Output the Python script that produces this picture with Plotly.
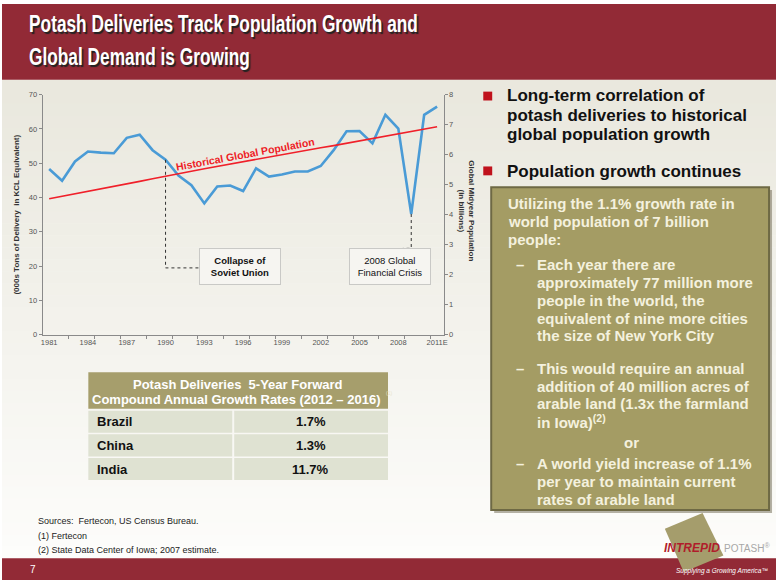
import plotly.graph_objects as go

W, H = 780, 585

# ---------------- data ----------------
years = list(range(1981, 2012))
year_labels = [str(y) for y in years[:-1]] + ["2011E"]
deliveries = [48.3, 44.9, 50.5, 53.4, 53.1, 52.9, 57.4, 58.3, 53.8, 51.0,
              46.4, 43.6, 38.3, 43.2, 43.5, 41.9, 48.5, 46.1, 46.7, 47.6,
              47.6, 49.2, 53.8, 59.3, 59.4, 55.8, 64.1, 60.1, 35.2, 64.1, 66.5]
population = [4.53, 4.61, 4.69, 4.77, 4.85, 4.94, 5.02, 5.11, 5.20, 5.29,
              5.37, 5.45, 5.53, 5.61, 5.69, 5.77, 5.85, 5.92, 6.00, 6.08,
              6.15, 6.23, 6.30, 6.38, 6.45, 6.53, 6.61, 6.69, 6.77, 6.85, 6.93]

table_title = ["Potash Deliveries  5-Year Forward", "Compound Annual Growth Rates (2012 – 2016)"]
table_countries = ["Brazil", "China", "India"]
table_rates = ["1.7%", "1.3%", "11.7%"]

FONT = "Arial, Liberation Sans, sans-serif"


def px(x):
    return x / W


def py(y):
    return 1 - y / H


fig = go.Figure()

fig.add_trace(go.Scatter(x=years, y=deliveries, mode="lines",
                         line=dict(color="#4a9bd6", width=2.6),
                         showlegend=False, hoverinfo="skip"))
fig.add_trace(go.Scatter(x=years, y=population, mode="lines", yaxis="y2",
                         line=dict(color="#f0202a", width=1.6),
                         showlegend=False, hoverinfo="skip"))

shapes = []
ann = []


def rect(x0, y0, x1, y1, fill, line=None, layer="above"):
    shapes.append(dict(type="rect", xref="paper", yref="paper", x0=px(x0), x1=px(x1),
                       y0=py(y1), y1=py(y0), fillcolor=fill,
                       line=line if line else dict(width=0), layer=layer))


def text(x, y, s, size, color="#111111", bold=False, xanchor="left", yanchor="middle", family=FONT, **kw):
    if bold:
        s = "<b>%s</b>" % s
    d = dict(xref="paper", yref="paper", x=px(x), y=py(y), text=s, showarrow=False,
             xanchor=xanchor, yanchor=yanchor, font=dict(family=family, size=size, color=color))
    d.update(kw)
    ann.append(d)


# background gradient bands
top_c = (234, 232, 222)
bot_c = (253, 253, 251)
y0, y1 = 77, 563
n = 40
for i in range(n):
    t = i / (n - 1)
    c = tuple(int(top_c[k] + (bot_c[k] - top_c[k]) * t) for k in range(3))
    ya = y0 + (y1 - y0) * i / n
    yb = y0 + (y1 - y0) * (i + 1) / n + 0.5
    rect(0, ya, W, yb, "rgb(%d,%d,%d)" % c, layer="below")
# title bar / footer bar
rect(0, 0, W, 77, "#922a36", layer="below")
rect(0, 563, W, H, "#922a36", layer="below")
# bullets
for yc in (93.5, 169.5):
    rect(485, yc - 4.5, 494, yc + 4.5, "#c0121c")
# olive box shadow + box
rect(496, 189, 776, 517, "rgba(90,85,60,0.45)")
rect(493, 186, 773, 514, "#a49c64", line=dict(color="#6e6944", width=2))
# logo diamond
shapes.append(dict(type="path", xref="paper", yref="paper",
                   path="M %f %f L %f %f L %f %f L %f %f Z" % (px(668), py(533), px(706), py(517),
                                                                px(727), py(560), px(687), py(577)),
                   fillcolor="#a59d6c", line=dict(width=0)))
# table
rect(87, 374, 389, 411, "#a69e6c")
row_tops = [413, 437, 461]
for i, (cty, rate) in enumerate(zip(table_countries, table_rates)):
    t0 = row_tops[i]
    rect(87, t0, 232, t0 + 22.5, "#dfe2d2")
    rect(234, t0, 389, t0 + 22.5, "#dfe2d2")
    text(94, t0 + 11.5, cty, 13, bold=True)
    text(311, t0 + 11.5, rate, 13, bold=True, xanchor="center")
text(238, 386, table_title[0], 13, color="#ffffff", bold=True, xanchor="center")
text(236, 402, table_title[1], 13, color="#ffffff", bold=True, xanchor="center")
text(385, 395, "(1)", 5, color="#e8e4cc")

# connectors
i90 = years.index(1990)
shapes.append(dict(type="path", xref="x", yref="y",
                   path="M %f %f L %f 19.5 L %f 19.5" % (years[i90], deliveries[i90], years[i90], years[i90] + 2.6),
                   line=dict(color="#333333", width=1, dash="dot")))
i09 = years.index(2009)
shapes.append(dict(type="path", xref="x", yref="y",
                   path="M %f %f L %f 25.2 L %f 25.2" % (years[i09], deliveries[i09], years[i09], years[i09] - 0.65),
                   line=dict(color="#333333", width=1, dash="dot")))

# title (condensed horizontally by the post script, like the original narrow face)
TFONT = "Arial, Liberation Sans"
text(25, 20, "Potash Deliveries Track Population Growth and", 24, color="#ffffff", bold=True,
     family=TFONT)
ann[-1]["font"]["shadow"] = "2px 2px 1px #222"
text(25, 53, "Global Demand is Growing", 24, color="#ffffff", bold=True, family=TFONT)
ann[-1]["font"]["shadow"] = "2px 2px 1px #222"

# right panel
for yy, s in [(93, "Long-term correlation of"), (113, "potash deliveries to historical"),
              (133, "global population growth"), (170, "Population growth continues")]:
    text(507, yy, s, 17, bold=True)

box_col = "#f4f1de"
box_lines = [
    (508, 203, "Utilizing the 1.1% growth rate in"),
    (508, 221, "world population of 7 billion"),
    (508, 239, "people:"),
    (537, 265, "Each year there are"),
    (537, 283, "approximately 77 million more"),
    (537, 301, "people in the world, the"),
    (537, 319, "equivalent of nine more cities"),
    (537, 337, "the size of New York City"),
    (537, 370, "This would require an annual"),
    (537, 388, "addition of 40 million acres of"),
    (537, 406, "arable land (1.3x the farmland"),
    (537, 424, "in Iowa)<sup>(2)</sup>"),
    (537, 467, "A world yield increase of 1.1%"),
    (537, 485, "per year to maintain current"),
    (537, 503, "rates of arable land"),
]
for x, yy, s in box_lines:
    text(x, yy, s, 15, color=box_col, bold=True)
for yy in (265, 370, 467):
    text(516, yy, "–", 15, color=box_col, bold=True)
text(634, 445, "or", 15, color=box_col, bold=True, xanchor="center")

# chart annotations
text(15, 214, "(000s Tons of Delivery  in KCL Equivalent)", 8, color="#333333", bold=True,
     xanchor="center", textangle=-90)
text(468, 210, "Global Midyear Population<br>(in billions)", 8, color="#333333", bold=True,
     xanchor="center", textangle=90)
ann.append(dict(xref="x", yref="y", x=1996.2, y=52.6, text="<b>Historical Global Population</b>",
                showarrow=False, textangle=-10.5,
                font=dict(family=FONT, size=10.5, color="#ee1c25")))
text(240, 266.5, "<b>Collapse of<br>Soviet Union</b>", 9.5, xanchor="center",
     bgcolor="#f6f5f1", bordercolor="#c9c9c6", borderwidth=1, width=78, height=33)
text(391, 266.5, "2008 Global<br>Financial Crisis", 9.5, xanchor="center",
     bgcolor="#f6f5f1", bordercolor="#c9c9c6", borderwidth=1, width=78, height=33)

# sources
text(34, 525, "Sources:  Fertecon, US Census Bureau.", 9, color="#222222")
text(34, 540, "(1) Fertecon", 9, color="#222222")
text(34, 555, "(2) State Data Center of Iowa; 2007 estimate.", 9, color="#222222")

# footer
text(26, 574, "7", 10, color="#ffffff")
text(774, 576, "<i>Supplying a Growing America™</i>", 6.5, color="#ffffff", xanchor="right")
text(726, 553, "<b><i>INTREPID</i></b>", 12, color="#b01d2b", xanchor="right")
text(726, 553, "POTASH<sup>®</sup>", 10, color="#a8a8a8")

axis_common = dict(showgrid=False, zeroline=False, showline=True, linecolor="#8a8a8a",
                   linewidth=1, tickcolor="#8a8a8a", ticklen=3,
                   tickfont=dict(family=FONT, size=7.5, color="#555555"))

fig.update_layout(
    width=W, height=H, margin=dict(l=0, r=0, t=0, b=0),
    paper_bgcolor="#ffffff", plot_bgcolor="rgba(0,0,0,0)",
    showlegend=False,
    xaxis=dict(domain=[px(41), px(445)], range=[1980.5, 2011.5],
               tickmode="array", tickvals=years[::3], ticktext=year_labels[::3], ticks="",
               minor=dict(tickmode="array", tickvals=[y + 0.5 for y in years[1:-1:2]],
                          ticks="outside", ticklen=3, tickcolor="#8a8a8a"),
               anchor="y", **axis_common),
    yaxis=dict(domain=[py(336), py(92)], range=[0, 70], dtick=10, anchor="x",
               ticks="outside", **axis_common),
    yaxis2=dict(overlaying="y", side="right", range=[0, 8], dtick=1, anchor="x",
                ticks="outside", **axis_common),
    shapes=shapes,
    annotations=ann,
)

post = """
var de = document.documentElement, b = document.body;
de.style.margin = '0'; de.style.padding = '0'; de.style.overflow = 'hidden';
b.style.margin = '0'; b.style.padding = '0'; b.style.overflow = 'hidden';
var sc = document.querySelectorAll('.svg-container');
for (var i = 0; i < sc.length; i++) { sc[i].style.display = 'block'; }
var ts = document.querySelectorAll('.annotation-text');
for (var j = 0; j < ts.length; j++) {
  var t = ts[j].textContent;
  if (t.indexOf('Potash Deliveries Track') === 0 || t.indexOf('Global Demand is') === 0) {
    ts[j].style.transformBox = 'fill-box';
    ts[j].style.transformOrigin = '0% 50%';
    ts[j].style.transform = 'scaleX(0.72)';
  }
}
"""
fig.write_html("out.html", config={"displayModeBar": False}, post_script=post)
